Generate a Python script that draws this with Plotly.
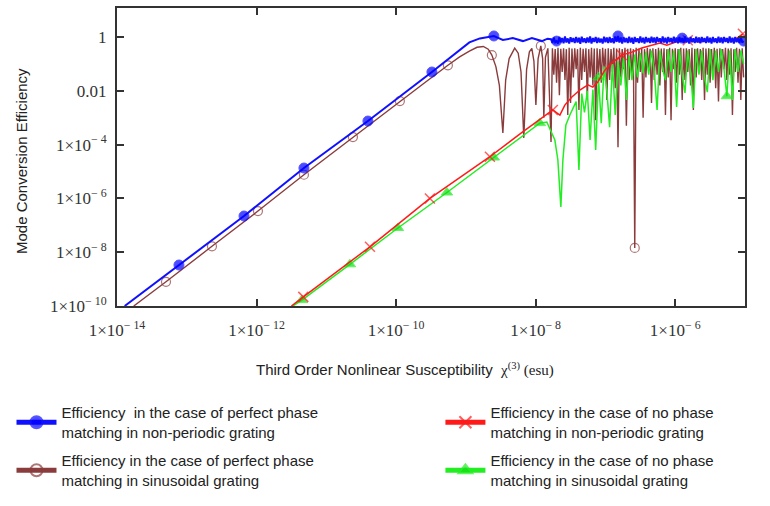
import numpy as np
import plotly.graph_objects as go

# ---------------- data (log10 values) ----------------
# coarse x-grid (log10 chi) for the green oscillating region
grid = [-7.78, -7.74, -7.70, -7.66, -7.62, -7.58, -7.54, -7.50, -7.46, -7.42,
        -7.38, -7.34, -7.30, -7.26, -7.22, -7.18, -7.14, -7.10, -7.06, -7.02,
        -6.98, -6.94, -6.90, -6.86, -6.82, -6.78, -6.74, -6.70, -6.66, -6.62,
        -6.58, -6.54, -6.50, -6.46, -6.42, -6.38, -6.34, -6.30, -6.26, -6.22,
        -6.18, -6.14, -6.10, -6.06, -6.02, -5.98, -5.94, -5.90, -5.86, -5.82,
        -5.78, -5.74, -5.70, -5.66, -5.62, -5.58, -5.54, -5.50, -5.46, -5.42,
        -5.38, -5.34, -5.30, -5.26, -5.22, -5.18, -5.14, -5.10, -5.06, -5.02]

# fine x-grid (log10 chi) for the fast oscillations of blue and brown
grid_fine = [-7.78, -7.76, -7.74, -7.72, -7.70, -7.68, -7.66, -7.64, -7.62, -7.60,
             -7.58, -7.56, -7.54, -7.52, -7.50, -7.48, -7.46, -7.44, -7.42, -7.40,
             -7.38, -7.36, -7.34, -7.32, -7.30, -7.28, -7.26, -7.24, -7.22, -7.20,
             -7.18, -7.16, -7.14, -7.12, -7.10, -7.08, -7.06, -7.04, -7.02, -7.00,
             -6.98, -6.96, -6.94, -6.92, -6.90, -6.88, -6.86, -6.84, -6.82, -6.80,
             -6.78, -6.76, -6.74, -6.72, -6.70, -6.68, -6.66, -6.64, -6.62, -6.60,
             -6.58, -6.56, -6.54, -6.52, -6.50, -6.48, -6.46, -6.44, -6.42, -6.40,
             -6.38, -6.36, -6.34, -6.32, -6.30, -6.28, -6.26, -6.24, -6.22, -6.20,
             -6.18, -6.16, -6.14, -6.12, -6.10, -6.08, -6.06, -6.04, -6.02, -6.00,
             -5.98, -5.96, -5.94, -5.92, -5.90, -5.88, -5.86, -5.84, -5.82, -5.80,
             -5.78, -5.76, -5.74, -5.72, -5.70, -5.68, -5.66, -5.64, -5.62, -5.60,
             -5.58, -5.56, -5.54, -5.52, -5.50, -5.48, -5.46, -5.44, -5.42, -5.40,
             -5.38, -5.36, -5.34, -5.32, -5.30, -5.28, -5.26, -5.24, -5.22, -5.20,
             -5.18, -5.16, -5.14, -5.12, -5.10, -5.08, -5.06, -5.04, -5.02]

# perfect phase matching, non-periodic grating (blue)
blue_head_chi = [-13.89, -13.112, -12.18, -11.321, -10.404, -9.487, -9.272, -9.086,
                 -8.95, -8.80, -8.599, -8.47, -8.327, -8.183, -8.054, -7.911, -7.83]
blue_head_eff = [-10.0, -8.476, -6.654, -4.87, -3.123, -1.30, -0.86, -0.45,
                 -0.20, -0.05, 0.04, -0.11, -0.04, -0.15, -0.04, -0.15, -0.06]
blue_fine_eff = [-0.08, -0.22, -0.02, -0.20, -0.15, -0.24, 0.00, -0.19, -0.04, -0.23,
                 0.02, -0.20, -0.05, -0.24, -0.01, -0.18, -0.04, -0.22, 0.00, -0.20,
                 -0.03, -0.25, 0.01, -0.19, -0.05, -0.22, -0.02, -0.20, 0.02, -0.24,
                 -0.04, -0.18, 0.00, -0.22, -0.03, -0.20, -0.06, -0.24, 0.01, -0.19,
                 -0.02, -0.22, 0.00, -0.20, -0.05, -0.23, 0.02, -0.18, 0.04, -0.20,
                 -0.02, -0.24, 0.00, -0.19, -0.04, -0.22, 0.01, -0.20, -0.03, -0.25,
                 0.00, -0.18, -0.05, -0.22, 0.02, -0.20, -0.03, -0.24, 0.00, -0.19,
                 -0.04, -0.22, 0.01, -0.20, -0.02, -0.23, 0.00, -0.18, -0.05, -0.22,
                 0.02, -0.20, -0.03, -0.24, 0.00, -0.19, -0.04, -0.22, 0.01, -0.20,
                 -0.02, -0.23, 0.00, -0.18, -0.04, -0.22, 0.02, -0.20, -0.03, -0.24,
                 0.00, -0.19, -0.05, -0.22, 0.01, -0.20, -0.02, -0.23, 0.00, -0.18,
                 -0.04, -0.22, 0.02, -0.20, -0.03, -0.24, 0.00, -0.19, -0.05, -0.22,
                 0.01, -0.20, -0.02, -0.23, 0.00, -0.18, -0.04, -0.22, 0.02, -0.20,
                 -0.03, -0.24, 0.00, -0.19, -0.05, -0.22, 0.01, -0.20, -0.15]
blue_marker_chi = [-13.112, -12.18, -11.321, -10.404, -9.487, -8.599, -7.70, -6.82, -5.90, -5.02]

# perfect phase matching, sinusoidal grating (brown)
brown_head_chi = [-13.76, -13.298, -12.639, -11.98, -11.321, -10.619, -9.946, -9.6,
                  -9.258, -9.09, -8.95, -8.84, -8.75, -8.68, -8.628, -8.57, -8.52,
                  -8.47, -8.43, -8.38, -8.30, -8.25, -8.21, -8.17, -8.13, -8.09,
                  -8.055, -8.025, -7.997, -7.965, -7.926, -7.90, -7.883, -7.86, -7.825]
brown_head_eff = [-10.0, -9.10, -7.78, -6.47, -5.12, -3.72, -2.38, -1.72,
                  -1.05, -0.74, -0.52, -0.38, -0.35, -0.45, -0.67, -1.1, -1.8,
                  -3.57, -1.6, -0.8, -0.41, -0.6, -1.3, -3.75, -1.2, -0.55,
                  -0.42, -0.9, -2.53, -0.8, -0.33, -0.8, -3.0, -0.75, -0.42]
brown_fine_eff = [-3.90, -0.42, -1.40, -0.45, -1.70, -0.40, -2.16, -0.44, -1.30, -0.42,
                  -1.60, -0.45, -2.90, -0.40, -2.45, -0.43, -1.50, -0.42, -1.20, -0.45,
                  -2.71, -0.40, -1.60, -0.44, -1.30, -0.42, -2.34, -0.45, -1.50, -0.40,
                  -1.80, -0.43, -3.09, -0.42, -1.40, -0.45, -1.70, -0.40, -1.20, -0.44,
                  -2.34, -0.42, -1.60, -0.45, -1.30, -0.40, -1.90, -0.43, -4.10, -0.42,
                  -1.50, -0.45, -1.20, -0.40, -3.30, -0.44, -1.60, -0.42, -1.40, -0.45,
                  -7.84, -0.40, -1.70, -0.43, -1.30, -0.42, -3.00, -0.45, -1.50, -0.40,
                  -1.20, -0.44, -2.45, -0.42, -1.60, -0.45, -1.40, -0.40, -1.80, -0.43,
                  -1.30, -0.42, -2.90, -0.45, -1.50, -0.40, -3.09, -0.44, -1.20, -0.42,
                  -1.70, -0.45, -1.40, -0.40, -2.34, -0.43, -1.60, -0.42, -1.30, -0.45,
                  -1.80, -0.40, -2.71, -0.44, -1.50, -0.42, -1.20, -0.45, -1.60, -0.40,
                  -2.34, -0.43, -1.40, -0.42, -1.70, -0.45, -1.30, -0.40, -1.90, -0.44,
                  -2.40, -0.42, -1.50, -0.45, -1.20, -0.40, -1.60, -0.43, -1.40, -0.42,
                  -2.90, -0.45, -1.30, -0.40, -1.70, -0.44, -2.34, -0.42, -1.50]
brown_marker_chi = [-13.298, -12.639, -11.98, -11.321, -10.619, -9.946, -9.258, -8.628, -7.926, -6.58]

# no phase matching, non-periodic grating (red)
red_chi = [-11.50, -11.33, -10.375, -9.516, -8.656, -8.20, -7.754, -7.653, -7.582, -7.481,
           -7.367, -7.252, -7.181, -7.109, -7.009, -6.894, -6.765, -6.622, -6.479, -6.335,
           -6.221, -6.12, -5.95, -5.82, -5.65, -5.45, -5.25, -5.12, -5.03]
red_eff = [-10.0, -9.66, -7.80, -6.00, -4.45, -3.55, -2.71, -2.90, -2.53, -2.23,
           -1.97, -1.78, -1.86, -1.67, -1.23, -0.93, -0.67, -0.56, -0.41, -0.30,
           -0.22, -0.30, -0.15, -0.12, -0.18, -0.10, -0.14, -0.05, 0.12]
red_marker_chi = [-11.33, -10.375, -9.516, -8.656, -7.754, -6.765, -5.82, -5.03]

# no phase matching, sinusoidal grating (green)
green_head_chi = [-11.48, -11.35, -10.662, -9.974, -9.272, -8.60, -7.94, -7.84,
                  -7.725, -7.682, -7.639, -7.61, -7.567, -7.51, -7.46]
green_head_eff = [-10.0, -9.78, -8.45, -7.10, -5.78, -4.48, -3.20, -3.16,
                  -3.83, -4.57, -6.32, -4.57, -3.27, -2.90, -2.60]
green_grid_eff = [-2.40, -4.94, -2.10, -2.80, -2.00, -3.83, -1.95, -4.20, -1.50, -3.20,
                  -1.10, -2.00, -3.35, -1.00, -2.90, -0.90, -1.80, -0.75, -2.34, -0.70,
                  -1.60, -0.65, -1.50, -0.60, -1.34, -0.55, -1.40, -0.50, -1.30, -2.71,
                  -0.50, -1.20, -1.60, -0.45, -1.30, -0.50, -2.60, -0.45, -1.40, -2.08,
                  -0.50, -1.30, -2.64, -0.45, -1.40, -0.50, -1.50, -2.05, -0.45, -1.60,
                  -0.50, -1.30, -0.45, -1.20, -2.20, -0.50, -2.34, -0.45, -1.30, -0.50,
                  -1.00]
green_grid_start = 9
green_marker_chi = [-11.35, -10.662, -9.974, -9.272, -8.60, -7.94, -7.10, -5.26]

x_tick_vals = [1e-14, 1e-12, 1e-10, 1e-8, 1e-6]
x_tick_text = ["1×10<sup>− 14</sup>", "1×10<sup>− 12</sup>", "1×10<sup>− 10</sup>",
               "1×10<sup>− 8</sup>", "1×10<sup>− 6</sup>"]
y_tick_vals = [1e-10, 1e-8, 1e-6, 1e-4, 1e-2, 1]
y_tick_text = ["1×10<sup>− 10</sup>", "1×10<sup>− 8</sup>", "1×10<sup>− 6</sup>",
               "1×10<sup>− 4</sup>", "0.01", "1"]

names = {
    "blue": "Efficiency  in the case of perfect phase<br>matching in non-periodic grating",
    "brown": "Efficiency in the case of perfect phase<br>matching in sinusoidal grating",
    "red": "Efficiency in the case of no phase<br>matching in non-periodic grating",
    "green": "Efficiency in the case of no phase<br>matching in sinusoidal grating",
}

# ---------------- build series ----------------
def series(chi_log, eff_log, marker_chi, msize):
    x = np.power(10.0, np.array(chi_log))
    y = np.power(10.0, np.array(eff_log))
    sizes = [msize if any(abs(c - m) < 1e-6 for m in marker_chi) else 0 for c in chi_log]
    return x, y, sizes

bx, by, bs = series(blue_head_chi + grid_fine, blue_head_eff + blue_fine_eff, blue_marker_chi, 10)
wx, wy, ws = series(brown_head_chi + grid_fine, brown_head_eff + brown_fine_eff, brown_marker_chi, 9)
rx, ry, rs = series(red_chi, red_eff, red_marker_chi, 10)
gx, gy, gs = series(green_head_chi + grid[green_grid_start:], green_head_eff + green_grid_eff,
                    green_marker_chi, 10)

BROWN = "#8a3c3c"
fig = go.Figure()
fig.add_trace(go.Scatter(x=wx, y=wy, mode="lines+markers", name=names["brown"],
                         legend="legend", legendgroup="brown", legendrank=2,
                         line=dict(color=BROWN, width=1.4),
                         marker=dict(symbol="circle-open", size=ws, color=BROWN,
                                     line=dict(width=1.2, color=BROWN))))
fig.add_trace(go.Scatter(x=gx, y=gy, mode="lines+markers", name=names["green"],
                         legend="legend2", legendgroup="green", legendrank=2,
                         line=dict(color="#22ee22", width=1.5),
                         marker=dict(symbol="triangle-up", size=gs, color="#11dd11")))
fig.add_trace(go.Scatter(x=rx, y=ry, mode="lines+markers", name=names["red"],
                         legend="legend2", legendgroup="red", legendrank=1,
                         line=dict(color="#ff1a1a", width=1.5),
                         marker=dict(symbol="x-thin-open", size=rs, color="#ff1a1a",
                                     line=dict(width=1.5, color="#ff1a1a"))))
fig.add_trace(go.Scatter(x=bx, y=by, mode="lines+markers", name=names["blue"],
                         legend="legend", legendgroup="blue", legendrank=1,
                         line=dict(color="#1010ff", width=2),
                         marker=dict(symbol="circle", size=bs, color="#0000ff")))

axis_common = dict(type="log", showline=True, linewidth=2, linecolor="#333",
                   mirror="allticks", ticks="inside", ticklen=7, tickwidth=2, tickcolor="#333",
                   showgrid=False, zeroline=False,
                   tickfont=dict(family="Liberation Serif", size=17, color="#333"))

legend_common = dict(orientation="v", xanchor="left", yanchor="top", itemsizing="constant",
                     itemwidth=40, tracegroupgap=6, traceorder="grouped",
                     font=dict(family="Liberation Sans", size=15, color="#222"),
                     bgcolor="rgba(0,0,0,0)")

fig.update_layout(
    width=770, height=506,
    margin=dict(l=117, r=25, t=8, b=200, autoexpand=False),
    paper_bgcolor="white", plot_bgcolor="white",
    xaxis=dict(range=[-14, -5], tickvals=x_tick_vals, ticktext=x_tick_text,
               ticklabelstandoff=8, **axis_common),
    yaxis=dict(range=[-10, 1.08], tickvals=y_tick_vals, ticktext=y_tick_text,
               ticklabelstandoff=5, **axis_common),
    legend=dict(x=-0.168, y=-0.303, **legend_common),
    legend2=dict(x=0.515, y=-0.303, **legend_common),
    annotations=[
        dict(text="Third Order Nonlinear Susceptibility  "
                  "<span style='font-family:Liberation Serif'>χ<sup>(3)</sup> (esu)</span>",
             x=0.459, y=-0.212, xref="paper", yref="paper", showarrow=False,
             xanchor="center", yanchor="middle",
             font=dict(family="Liberation Sans", size=15, color="#222")),
        dict(text="Mode Conversion Efficiency", textangle=-90,
             x=-0.151, y=0.487, xref="paper", yref="paper", showarrow=False,
             xanchor="center", yanchor="middle",
             font=dict(family="Liberation Sans", size=15, color="#222")),
    ],
)

fig.write_html("out.html")
